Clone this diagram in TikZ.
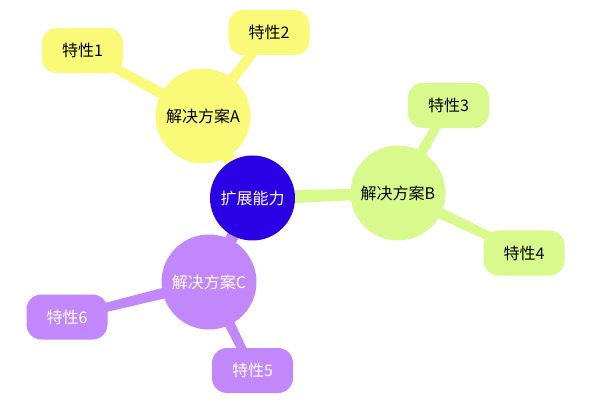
\documentclass[tikz,border=0pt]{standalone}
\usepackage{fontspec}
\newfontfamily\cjk{Noto Sans CJK SC}
\usetikzlibrary{calc,backgrounds}
\definecolor{cyel}{HTML}{FAFA78}
\definecolor{cgrn}{HTML}{D8FA8C}
\definecolor{cpur}{HTML}{C287FA}
\definecolor{cblu}{HTML}{2A00E4}
\newcommand\taperline[5]{\fill[#1] ($(#2)!#4!90:(#3)$) -- ($(#3)!#5!-90:(#2)$) -- ($(#3)!#5!90:(#2)$) -- ($(#2)!#4!-90:(#3)$) -- cycle;}
\begin{document}
\begin{tikzpicture}[x=1pt,y=-1pt,
  txt/.style={font=\cjk\fontsize{16}{19}\selectfont, inner sep=0pt},
  hub/.style={txt, circle, minimum size=85pt, fill=cblu, text=white},
  sol/.style={txt, circle, minimum size=95pt},
  feat/.style={txt, rectangle, rounded corners=15pt, minimum width=81pt, minimum height=45pt}]
\useasboundingbox (0,0) rectangle (589,406);
\node[hub] (hub) at (252.5,198) {扩展能力};
\node[sol, fill=cyel, text=black] (A) at (203,116) {解决方案A};
\node[sol, fill=cgrn, text=black] (B) at (398,193) {解决方案B};
\node[sol, fill=cpur, text=white] (C) at (209,282) {解决方案C};
\node[feat, fill=cyel, text=black] (f1) at (82.5,50.5) {特性1};
\node[feat, fill=cyel, text=black] (f2) at (269,32.5) {特性2};
\node[feat, fill=cgrn, text=black] (f3) at (448.5,105.5) {特性3};
\node[feat, fill=cgrn, text=black] (f4) at (524,253) {特性4};
\node[feat, fill=cpur, text=white] (f6) at (67,317) {特性6};
\node[feat, fill=cpur, text=white] (f5) at (252.5,370.5) {特性5};
\begin{scope}[on background layer]
\fill[white] (0,0) rectangle (589,406);
\taperline{cyel}{hub.center}{A.center}{7pt}{5pt}
\taperline{cgrn}{hub.center}{B.center}{7pt}{5pt}
\taperline{cpur}{hub.center}{C.center}{7pt}{5pt}
\taperline{cyel}{A.center}{f1.center}{6pt}{4pt}
\taperline{cyel}{A.center}{f2.center}{6pt}{4pt}
\taperline{cgrn}{B.center}{f3.center}{6pt}{4pt}
\taperline{cgrn}{B.center}{f4.center}{6pt}{4pt}
\taperline{cpur}{C.center}{f6.center}{6pt}{4pt}
\taperline{cpur}{C.center}{f5.center}{6pt}{4pt}
\end{scope}
\end{tikzpicture}
\end{document}
